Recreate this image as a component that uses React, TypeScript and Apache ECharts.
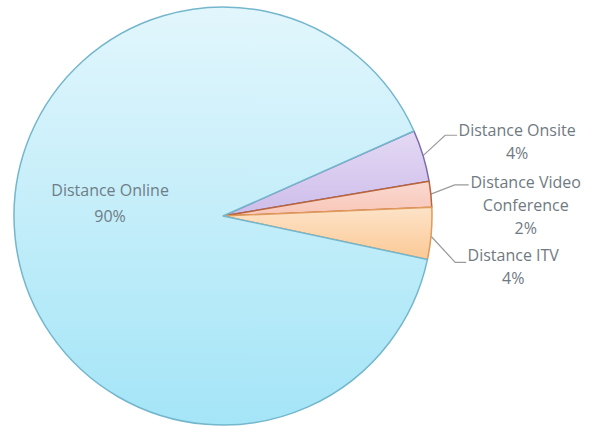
import React, { useEffect, useRef } from "react";
import * as echarts from "echarts";

const categories = ["Distance Onsite", "Distance Video Conference", "Distance ITV", "Distance Online"];
const values = [4, 2, 4, 90];
const fillTop = ["#e4d9f4", "#fbd9d0", "#fde3c8", "#e2f6fc"];
const fillBottom = ["#cdbdea", "#f7c6b8", "#fbc995", "#a4e5f7"];
const borderColors = ["#7d6aa9", "#b9643a", "#e09a5c", "#74b6cc"];

export default function App() {
  const ref = useRef<HTMLDivElement>(null);
  useEffect(() => {
    if (!ref.current) return;
    const chart = echarts.init(ref.current, null, { renderer: "svg" });
    const data = categories.map((name, i) => {
      const inside = name === "Distance Online";
      return {
        name,
        value: values[i],
        itemStyle: {
          color: new echarts.graphic.LinearGradient(0, 0, 0, 1, [
            { offset: 0, color: fillTop[i] },
            { offset: 1, color: fillBottom[i] },
          ]),
          borderColor: borderColors[i],
          borderWidth: 1.5,
        },
        label: inside ? { position: "inner" } : undefined,
        labelLine: inside ? { show: false } : undefined,
      };
    });
    // label shifts and leader-line bends (relative to library-computed positions)
    const shifts = [
      { dx: 4, dy: -8 },
      { dx: 4, dy: 13 },
      { dx: -9, dy: 31 },
      { dx: -6, dy: -24 },
    ];
    const bend = [
      [[0, 0], [1, -14], [7, -14]],
      [[0, 0], [2, -7], [10, -7]],
      [[0, 3], [2, 27], [7, 27]],
      [[0, 0], [0, 0], [0, 0]],
    ];
    chart.setOption({
      animation: false,
      backgroundColor: "#ffffff",
      series: [
        {
          type: "pie",
          center: [223, 216],
          radius: 209,
          startAngle: 24,
          clockwise: true,
          avoidLabelOverlap: false,
          data,
          label: {
            show: true,
            position: "outside",
            distanceToLabelLine: 1,
            formatter: (p: any) => {
              const st = p.name === "Distance Online" ? "b" : "a";
              const name = p.name.replace("Video ", "Video\n");
              const lines = name.split("\n").map((s: string) => `{${st}|${s}}`);
              return [...lines, `{${st}|${Math.round(p.percent)}%}`].join("\n");
            },
            rich: {
              a: {
                align: "center",
                width: 124,
                fontFamily: "Open Sans",
                fontSize: 16,
                lineHeight: 23,
                color: "#707a82",
              },
              b: {
                align: "center",
                width: 130,
                fontFamily: "Open Sans",
                fontSize: 16,
                lineHeight: 26,
                color: "#6f7d86",
              },
            },
          },
          labelLine: {
            show: true,
            length: 22,
            length2: 6,
            lineStyle: { color: "#9a9a9a", width: 1.2 },
          },
          labelLayout: (params: any) => {
            const i = params.dataIndex;
            const out: any = { ...shifts[i] };
            const pts = params.labelLinePoints;
            if (pts && i < 3) {
              out.labelLinePoints = pts.map((pt: number[], k: number) => [
                pt[0] + bend[i][k][0],
                pt[1] + bend[i][k][1],
              ]);
            }
            return out;
          },
        },
      ],
    });
    return () => chart.dispose();
  }, []);
  return <div ref={ref} style={{ width: 592, height: 432, position: "absolute", left: 0, top: 0 }} />;
}
